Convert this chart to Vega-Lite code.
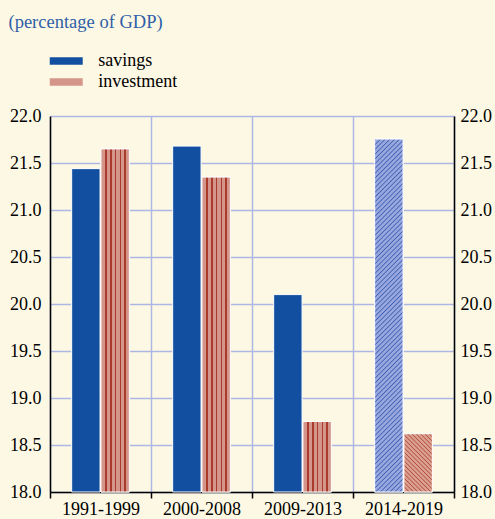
{
  "$schema": "https://vega.github.io/schema/vega-lite/v6.json",
  "width": 404,
  "height": 376,
  "autosize": {"type": "none"},
  "padding": {"left": 50, "top": 116, "right": 41, "bottom": 27},
  "background": "#fdf8e4",
  "title": {"text": "(percentage of GDP)", "anchor": "start", "frame": "bounds", "font": "Liberation Serif", "fontSize": 18.5, "fontWeight": "normal", "color": "#2f5fa7", "offset": 21, "dx": -1},
  "config": {"view": {"stroke": null}},
  "data": {"values": [
    {"period": "1991-1999", "series": "savings", "value": 21.44},
    {"period": "1991-1999", "series": "investment", "value": 21.65},
    {"period": "2000-2008", "series": "savings", "value": 21.68},
    {"period": "2000-2008", "series": "investment", "value": 21.35},
    {"period": "2009-2013", "series": "savings", "value": 20.1},
    {"period": "2009-2013", "series": "investment", "value": 18.75},
    {"period": "2014-2019", "series": "savings", "value": 21.755},
    {"period": "2014-2019", "series": "investment", "value": 18.62}
  ]},
  "layer": [
    {
      "mark": {"type": "bar", "stroke": "#ffffff", "strokeWidth": 1},
      "encoding": {
        "x": {"field": "period", "type": "nominal", "scale": {"paddingInner": 0, "paddingOuter": 0},
          "axis": {"title": null, "labelAngle": 0, "tickBand": "extent", "grid": true, "gridColor": "#aeb6e4", "gridWidth": 1.5, "domainColor": "#000000", "domainWidth": 1.5, "tickColor": "#000000", "tickSize": 6, "tickWidth": 1.5, "labelFont": "Liberation Serif", "labelFontSize": 18, "labelColor": "#000000", "labelPadding": 2}},
        "xOffset": {"field": "series", "type": "nominal", "sort": ["savings", "investment"], "scale": {"paddingInner": 0.03, "paddingOuter": 0.74}},
        "y": {"field": "value", "type": "quantitative", "scale": {"domain": [18, 22], "zero": false, "nice": false},
          "axis": {"title": null, "values": [18, 18.5, 19, 19.5, 20, 20.5, 21, 21.5, 22], "format": ".1f", "grid": true, "gridColor": "#aeb6e4", "gridWidth": 1.5, "ticks": false, "domainColor": "#000000", "domainWidth": 1.5, "labelPadding": 9, "labelFont": "Liberation Serif", "labelFontSize": 18, "labelColor": "#000000"}},
        "y2": {"datum": 18},
        "color": {"field": "series", "type": "nominal", "scale": {"domain": ["savings", "investment"], "range": ["#134fa0", "#d4968a"]},
          "legend": {"title": null, "orient": "none", "legendX": 7.25, "legendY": -64, "symbolType": "M-2,-0.44H2V0.44H-2Z", "symbolSize": 272, "symbolStrokeWidth": 0, "labelFont": "Liberation Serif", "labelFontSize": 18, "labelColor": "#000000", "labelOffset": 23, "rowPadding": 3, "padding": 0}}
      }
    },
    {
      "transform": [{"filter": "datum.series === 'investment' && datum.period !== '2014-2019'"}],
      "mark": {"type": "bar", "stroke": "#ffffff", "strokeWidth": 1, "fill": {"gradient": "linear", "x1": 0, "y1": 0, "x2": 1, "y2": 0, "stops": [
        {"offset": 0, "color": "#d4968a"}, {"offset": 0.13, "color": "#d4968a"}, {"offset": 0.13, "color": "#a93a2c"}, {"offset": 0.22, "color": "#a93a2c"}, {"offset": 0.22, "color": "#d4968a"},
        {"offset": 0.31, "color": "#d4968a"}, {"offset": 0.31, "color": "#a93a2c"}, {"offset": 0.38, "color": "#a93a2c"}, {"offset": 0.38, "color": "#d4968a"},
        {"offset": 0.48, "color": "#d4968a"}, {"offset": 0.48, "color": "#a93a2c"}, {"offset": 0.54, "color": "#a93a2c"}, {"offset": 0.54, "color": "#d4968a"},
        {"offset": 0.66, "color": "#d4968a"}, {"offset": 0.66, "color": "#a93a2c"}, {"offset": 0.72, "color": "#a93a2c"}, {"offset": 0.72, "color": "#d4968a"},
        {"offset": 0.8, "color": "#d4968a"}, {"offset": 0.8, "color": "#a93a2c"}, {"offset": 0.89, "color": "#a93a2c"}, {"offset": 0.89, "color": "#d4968a"},
        {"offset": 1, "color": "#d4968a"}]}},
      "encoding": {
        "x": {"field": "period", "type": "nominal"},
        "xOffset": {"field": "series", "type": "nominal", "sort": ["savings", "investment"]},
        "y": {"field": "value", "type": "quantitative", "axis": null},
        "y2": {"datum": 18}
      }
    },
    {
      "transform": [{"filter": "datum.period === '2014-2019' && datum.series === 'savings'"}],
      "mark": {"type": "bar", "stroke": "#ffffff", "strokeWidth": 1, "fill": {"gradient": "linear", "x1": 0, "y1": 0, "x2": 0.0864, "y2": 1.0735, "stops": [
        {"offset": 0, "color": "#98a8de"}, {"offset": 0.003, "color": "#3b5db3"}, {"offset": 0.006, "color": "#98a8de"},
        {"offset": 0.0125, "color": "#98a8de"}, {"offset": 0.0155, "color": "#3b5db3"}, {"offset": 0.0185, "color": "#98a8de"},
        {"offset": 0.025, "color": "#98a8de"}, {"offset": 0.028, "color": "#3b5db3"}, {"offset": 0.031, "color": "#98a8de"},
        {"offset": 0.0375, "color": "#98a8de"}, {"offset": 0.0405, "color": "#3b5db3"}, {"offset": 0.0435, "color": "#98a8de"},
        {"offset": 0.05, "color": "#98a8de"}, {"offset": 0.053, "color": "#3b5db3"}, {"offset": 0.056, "color": "#98a8de"},
        {"offset": 0.0625, "color": "#98a8de"}, {"offset": 0.0655, "color": "#3b5db3"}, {"offset": 0.0685, "color": "#98a8de"},
        {"offset": 0.075, "color": "#98a8de"}, {"offset": 0.078, "color": "#3b5db3"}, {"offset": 0.081, "color": "#98a8de"},
        {"offset": 0.0875, "color": "#98a8de"}, {"offset": 0.0905, "color": "#3b5db3"}, {"offset": 0.0935, "color": "#98a8de"},
        {"offset": 0.1, "color": "#98a8de"}, {"offset": 0.103, "color": "#3b5db3"}, {"offset": 0.106, "color": "#98a8de"},
        {"offset": 0.1125, "color": "#98a8de"}, {"offset": 0.1155, "color": "#3b5db3"}, {"offset": 0.1185, "color": "#98a8de"},
        {"offset": 0.125, "color": "#98a8de"}, {"offset": 0.128, "color": "#3b5db3"}, {"offset": 0.131, "color": "#98a8de"},
        {"offset": 0.1375, "color": "#98a8de"}, {"offset": 0.1405, "color": "#3b5db3"}, {"offset": 0.1435, "color": "#98a8de"},
        {"offset": 0.15, "color": "#98a8de"}, {"offset": 0.153, "color": "#3b5db3"}, {"offset": 0.156, "color": "#98a8de"},
        {"offset": 0.1625, "color": "#98a8de"}, {"offset": 0.1655, "color": "#3b5db3"}, {"offset": 0.1685, "color": "#98a8de"},
        {"offset": 0.175, "color": "#98a8de"}, {"offset": 0.178, "color": "#3b5db3"}, {"offset": 0.181, "color": "#98a8de"},
        {"offset": 0.1875, "color": "#98a8de"}, {"offset": 0.1905, "color": "#3b5db3"}, {"offset": 0.1935, "color": "#98a8de"},
        {"offset": 0.2, "color": "#98a8de"}, {"offset": 0.203, "color": "#3b5db3"}, {"offset": 0.206, "color": "#98a8de"},
        {"offset": 0.2125, "color": "#98a8de"}, {"offset": 0.2155, "color": "#3b5db3"}, {"offset": 0.2185, "color": "#98a8de"},
        {"offset": 0.225, "color": "#98a8de"}, {"offset": 0.228, "color": "#3b5db3"}, {"offset": 0.231, "color": "#98a8de"},
        {"offset": 0.2375, "color": "#98a8de"}, {"offset": 0.2405, "color": "#3b5db3"}, {"offset": 0.2435, "color": "#98a8de"},
        {"offset": 0.25, "color": "#98a8de"}, {"offset": 0.253, "color": "#3b5db3"}, {"offset": 0.256, "color": "#98a8de"},
        {"offset": 0.2625, "color": "#98a8de"}, {"offset": 0.2655, "color": "#3b5db3"}, {"offset": 0.2685, "color": "#98a8de"},
        {"offset": 0.275, "color": "#98a8de"}, {"offset": 0.278, "color": "#3b5db3"}, {"offset": 0.281, "color": "#98a8de"},
        {"offset": 0.2875, "color": "#98a8de"}, {"offset": 0.2905, "color": "#3b5db3"}, {"offset": 0.2935, "color": "#98a8de"},
        {"offset": 0.3, "color": "#98a8de"}, {"offset": 0.303, "color": "#3b5db3"}, {"offset": 0.306, "color": "#98a8de"},
        {"offset": 0.3125, "color": "#98a8de"}, {"offset": 0.3155, "color": "#3b5db3"}, {"offset": 0.3185, "color": "#98a8de"},
        {"offset": 0.325, "color": "#98a8de"}, {"offset": 0.328, "color": "#3b5db3"}, {"offset": 0.331, "color": "#98a8de"},
        {"offset": 0.3375, "color": "#98a8de"}, {"offset": 0.3405, "color": "#3b5db3"}, {"offset": 0.3435, "color": "#98a8de"},
        {"offset": 0.35, "color": "#98a8de"}, {"offset": 0.353, "color": "#3b5db3"}, {"offset": 0.356, "color": "#98a8de"},
        {"offset": 0.3625, "color": "#98a8de"}, {"offset": 0.3655, "color": "#3b5db3"}, {"offset": 0.3685, "color": "#98a8de"},
        {"offset": 0.375, "color": "#98a8de"}, {"offset": 0.378, "color": "#3b5db3"}, {"offset": 0.381, "color": "#98a8de"},
        {"offset": 0.3875, "color": "#98a8de"}, {"offset": 0.3905, "color": "#3b5db3"}, {"offset": 0.3935, "color": "#98a8de"},
        {"offset": 0.4, "color": "#98a8de"}, {"offset": 0.403, "color": "#3b5db3"}, {"offset": 0.406, "color": "#98a8de"},
        {"offset": 0.4125, "color": "#98a8de"}, {"offset": 0.4155, "color": "#3b5db3"}, {"offset": 0.4185, "color": "#98a8de"},
        {"offset": 0.425, "color": "#98a8de"}, {"offset": 0.428, "color": "#3b5db3"}, {"offset": 0.431, "color": "#98a8de"},
        {"offset": 0.4375, "color": "#98a8de"}, {"offset": 0.4405, "color": "#3b5db3"}, {"offset": 0.4435, "color": "#98a8de"},
        {"offset": 0.45, "color": "#98a8de"}, {"offset": 0.453, "color": "#3b5db3"}, {"offset": 0.456, "color": "#98a8de"},
        {"offset": 0.4625, "color": "#98a8de"}, {"offset": 0.4655, "color": "#3b5db3"}, {"offset": 0.4685, "color": "#98a8de"},
        {"offset": 0.475, "color": "#98a8de"}, {"offset": 0.478, "color": "#3b5db3"}, {"offset": 0.481, "color": "#98a8de"},
        {"offset": 0.4875, "color": "#98a8de"}, {"offset": 0.4905, "color": "#3b5db3"}, {"offset": 0.4935, "color": "#98a8de"},
        {"offset": 0.5, "color": "#98a8de"}, {"offset": 0.503, "color": "#3b5db3"}, {"offset": 0.506, "color": "#98a8de"},
        {"offset": 0.5125, "color": "#98a8de"}, {"offset": 0.5155, "color": "#3b5db3"}, {"offset": 0.5185, "color": "#98a8de"},
        {"offset": 0.525, "color": "#98a8de"}, {"offset": 0.528, "color": "#3b5db3"}, {"offset": 0.531, "color": "#98a8de"},
        {"offset": 0.5375, "color": "#98a8de"}, {"offset": 0.5405, "color": "#3b5db3"}, {"offset": 0.5435, "color": "#98a8de"},
        {"offset": 0.55, "color": "#98a8de"}, {"offset": 0.553, "color": "#3b5db3"}, {"offset": 0.556, "color": "#98a8de"},
        {"offset": 0.5625, "color": "#98a8de"}, {"offset": 0.5655, "color": "#3b5db3"}, {"offset": 0.5685, "color": "#98a8de"},
        {"offset": 0.575, "color": "#98a8de"}, {"offset": 0.578, "color": "#3b5db3"}, {"offset": 0.581, "color": "#98a8de"},
        {"offset": 0.5875, "color": "#98a8de"}, {"offset": 0.5905, "color": "#3b5db3"}, {"offset": 0.5935, "color": "#98a8de"},
        {"offset": 0.6, "color": "#98a8de"}, {"offset": 0.603, "color": "#3b5db3"}, {"offset": 0.606, "color": "#98a8de"},
        {"offset": 0.6125, "color": "#98a8de"}, {"offset": 0.6155, "color": "#3b5db3"}, {"offset": 0.6185, "color": "#98a8de"},
        {"offset": 0.625, "color": "#98a8de"}, {"offset": 0.628, "color": "#3b5db3"}, {"offset": 0.631, "color": "#98a8de"},
        {"offset": 0.6375, "color": "#98a8de"}, {"offset": 0.6405, "color": "#3b5db3"}, {"offset": 0.6435, "color": "#98a8de"},
        {"offset": 0.65, "color": "#98a8de"}, {"offset": 0.653, "color": "#3b5db3"}, {"offset": 0.656, "color": "#98a8de"},
        {"offset": 0.6625, "color": "#98a8de"}, {"offset": 0.6655, "color": "#3b5db3"}, {"offset": 0.6685, "color": "#98a8de"},
        {"offset": 0.675, "color": "#98a8de"}, {"offset": 0.678, "color": "#3b5db3"}, {"offset": 0.681, "color": "#98a8de"},
        {"offset": 0.6875, "color": "#98a8de"}, {"offset": 0.6905, "color": "#3b5db3"}, {"offset": 0.6935, "color": "#98a8de"},
        {"offset": 0.7, "color": "#98a8de"}, {"offset": 0.703, "color": "#3b5db3"}, {"offset": 0.706, "color": "#98a8de"},
        {"offset": 0.7125, "color": "#98a8de"}, {"offset": 0.7155, "color": "#3b5db3"}, {"offset": 0.7185, "color": "#98a8de"},
        {"offset": 0.725, "color": "#98a8de"}, {"offset": 0.728, "color": "#3b5db3"}, {"offset": 0.731, "color": "#98a8de"},
        {"offset": 0.7375, "color": "#98a8de"}, {"offset": 0.7405, "color": "#3b5db3"}, {"offset": 0.7435, "color": "#98a8de"},
        {"offset": 0.75, "color": "#98a8de"}, {"offset": 0.753, "color": "#3b5db3"}, {"offset": 0.756, "color": "#98a8de"},
        {"offset": 0.7625, "color": "#98a8de"}, {"offset": 0.7655, "color": "#3b5db3"}, {"offset": 0.7685, "color": "#98a8de"},
        {"offset": 0.775, "color": "#98a8de"}, {"offset": 0.778, "color": "#3b5db3"}, {"offset": 0.781, "color": "#98a8de"},
        {"offset": 0.7875, "color": "#98a8de"}, {"offset": 0.7905, "color": "#3b5db3"}, {"offset": 0.7935, "color": "#98a8de"},
        {"offset": 0.8, "color": "#98a8de"}, {"offset": 0.803, "color": "#3b5db3"}, {"offset": 0.806, "color": "#98a8de"},
        {"offset": 0.8125, "color": "#98a8de"}, {"offset": 0.8155, "color": "#3b5db3"}, {"offset": 0.8185, "color": "#98a8de"},
        {"offset": 0.825, "color": "#98a8de"}, {"offset": 0.828, "color": "#3b5db3"}, {"offset": 0.831, "color": "#98a8de"},
        {"offset": 0.8375, "color": "#98a8de"}, {"offset": 0.8405, "color": "#3b5db3"}, {"offset": 0.8435, "color": "#98a8de"},
        {"offset": 0.85, "color": "#98a8de"}, {"offset": 0.853, "color": "#3b5db3"}, {"offset": 0.856, "color": "#98a8de"},
        {"offset": 0.8625, "color": "#98a8de"}, {"offset": 0.8655, "color": "#3b5db3"}, {"offset": 0.8685, "color": "#98a8de"},
        {"offset": 0.875, "color": "#98a8de"}, {"offset": 0.878, "color": "#3b5db3"}, {"offset": 0.881, "color": "#98a8de"},
        {"offset": 0.8875, "color": "#98a8de"}, {"offset": 0.8905, "color": "#3b5db3"}, {"offset": 0.8935, "color": "#98a8de"},
        {"offset": 0.9, "color": "#98a8de"}, {"offset": 0.903, "color": "#3b5db3"}, {"offset": 0.906, "color": "#98a8de"},
        {"offset": 0.9125, "color": "#98a8de"}, {"offset": 0.9155, "color": "#3b5db3"}, {"offset": 0.9185, "color": "#98a8de"},
        {"offset": 0.925, "color": "#98a8de"}, {"offset": 0.928, "color": "#3b5db3"}, {"offset": 0.931, "color": "#98a8de"},
        {"offset": 0.9375, "color": "#98a8de"}, {"offset": 0.9405, "color": "#3b5db3"}, {"offset": 0.9435, "color": "#98a8de"},
        {"offset": 0.95, "color": "#98a8de"}, {"offset": 0.953, "color": "#3b5db3"}, {"offset": 0.956, "color": "#98a8de"},
        {"offset": 0.9625, "color": "#98a8de"}, {"offset": 0.9655, "color": "#3b5db3"}, {"offset": 0.9685, "color": "#98a8de"},
        {"offset": 0.975, "color": "#98a8de"}, {"offset": 0.978, "color": "#3b5db3"}, {"offset": 0.981, "color": "#98a8de"},
        {"offset": 0.9875, "color": "#98a8de"}, {"offset": 0.9905, "color": "#3b5db3"}, {"offset": 0.9935, "color": "#98a8de"},
        {"offset": 1, "color": "#98a8de"}]}},
      "encoding": {
        "x": {"field": "period", "type": "nominal"},
        "xOffset": {"field": "series", "type": "nominal", "sort": ["savings", "investment"]},
        "y": {"field": "value", "type": "quantitative", "axis": null},
        "y2": {"datum": 18}
      }
    },
    {
      "transform": [{"filter": "datum.period === '2014-2019' && datum.series === 'investment'"}],
      "mark": {"type": "bar", "stroke": "#ffffff", "strokeWidth": 1, "fill": {"gradient": "linear", "x1": 0, "y1": 1, "x2": 0.5857, "y2": -0.2018, "stops": [
        {"offset": 0, "color": "#daa090"}, {"offset": 0.012, "color": "#b24a3c"}, {"offset": 0.024, "color": "#daa090"},
        {"offset": 0.05, "color": "#daa090"}, {"offset": 0.062, "color": "#b24a3c"}, {"offset": 0.074, "color": "#daa090"},
        {"offset": 0.1, "color": "#daa090"}, {"offset": 0.112, "color": "#b24a3c"}, {"offset": 0.124, "color": "#daa090"},
        {"offset": 0.15, "color": "#daa090"}, {"offset": 0.162, "color": "#b24a3c"}, {"offset": 0.174, "color": "#daa090"},
        {"offset": 0.2, "color": "#daa090"}, {"offset": 0.212, "color": "#b24a3c"}, {"offset": 0.224, "color": "#daa090"},
        {"offset": 0.25, "color": "#daa090"}, {"offset": 0.262, "color": "#b24a3c"}, {"offset": 0.274, "color": "#daa090"},
        {"offset": 0.3, "color": "#daa090"}, {"offset": 0.312, "color": "#b24a3c"}, {"offset": 0.324, "color": "#daa090"},
        {"offset": 0.35, "color": "#daa090"}, {"offset": 0.362, "color": "#b24a3c"}, {"offset": 0.374, "color": "#daa090"},
        {"offset": 0.4, "color": "#daa090"}, {"offset": 0.412, "color": "#b24a3c"}, {"offset": 0.424, "color": "#daa090"},
        {"offset": 0.45, "color": "#daa090"}, {"offset": 0.462, "color": "#b24a3c"}, {"offset": 0.474, "color": "#daa090"},
        {"offset": 0.5, "color": "#daa090"}, {"offset": 0.512, "color": "#b24a3c"}, {"offset": 0.524, "color": "#daa090"},
        {"offset": 0.55, "color": "#daa090"}, {"offset": 0.562, "color": "#b24a3c"}, {"offset": 0.574, "color": "#daa090"},
        {"offset": 0.6, "color": "#daa090"}, {"offset": 0.612, "color": "#b24a3c"}, {"offset": 0.624, "color": "#daa090"},
        {"offset": 0.65, "color": "#daa090"}, {"offset": 0.662, "color": "#b24a3c"}, {"offset": 0.674, "color": "#daa090"},
        {"offset": 0.7, "color": "#daa090"}, {"offset": 0.712, "color": "#b24a3c"}, {"offset": 0.724, "color": "#daa090"},
        {"offset": 0.75, "color": "#daa090"}, {"offset": 0.762, "color": "#b24a3c"}, {"offset": 0.774, "color": "#daa090"},
        {"offset": 0.8, "color": "#daa090"}, {"offset": 0.812, "color": "#b24a3c"}, {"offset": 0.824, "color": "#daa090"},
        {"offset": 0.85, "color": "#daa090"}, {"offset": 0.862, "color": "#b24a3c"}, {"offset": 0.874, "color": "#daa090"},
        {"offset": 0.9, "color": "#daa090"}, {"offset": 0.912, "color": "#b24a3c"}, {"offset": 0.924, "color": "#daa090"},
        {"offset": 0.95, "color": "#daa090"}, {"offset": 0.962, "color": "#b24a3c"}, {"offset": 0.974, "color": "#daa090"},
        {"offset": 1, "color": "#daa090"}]}},
      "encoding": {
        "x": {"field": "period", "type": "nominal"},
        "xOffset": {"field": "series", "type": "nominal", "sort": ["savings", "investment"]},
        "y": {"field": "value", "type": "quantitative", "axis": null},
        "y2": {"datum": 18}
      }
    },
    {
      "mark": {"type": "bar", "opacity": 0},
      "encoding": {
        "x": {"field": "period", "type": "nominal"},
        "xOffset": {"field": "series", "type": "nominal", "sort": ["savings", "investment"]},
        "y": {"field": "value", "type": "quantitative",
          "axis": {"orient": "right", "title": null, "values": [18, 18.5, 19, 19.5, 20, 20.5, 21, 21.5, 22], "format": ".1f", "grid": false, "ticks": false, "domainColor": "#000000", "domainWidth": 1.5, "labelPadding": 6, "labelFont": "Liberation Serif", "labelFontSize": 18, "labelColor": "#000000"}},
        "y2": {"datum": 18}
      }
    }
  ],
  "resolve": {"axis": {"y": "independent"}}
}
